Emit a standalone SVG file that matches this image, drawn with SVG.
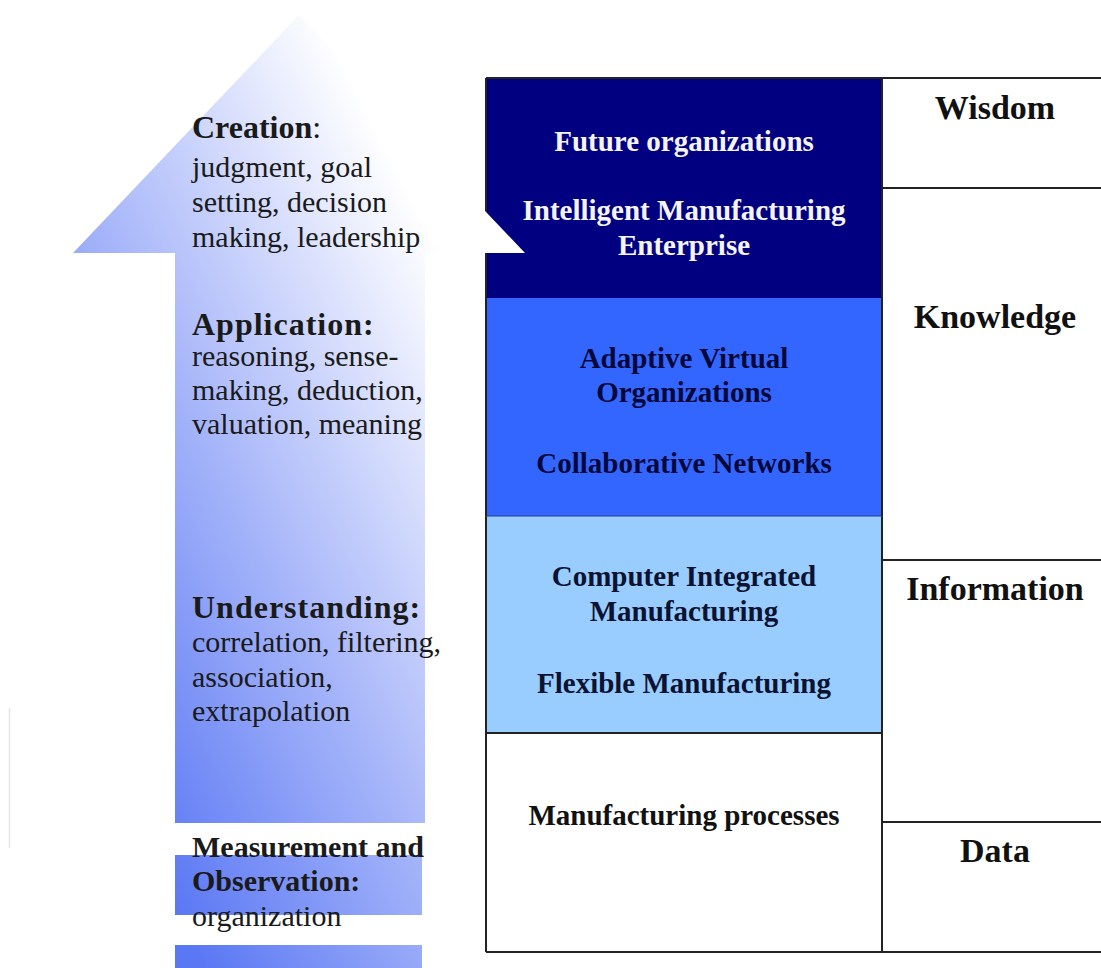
<svg xmlns="http://www.w3.org/2000/svg" width="1101" height="968" viewBox="0 0 1101 968">
  <defs>
    <linearGradient id="arrowGrad" gradientUnits="userSpaceOnUse" x1="132" y1="824" x2="608" y2="582">
      <stop offset="0" stop-color="#5b78f4"/>
      <stop offset="0.5" stop-color="#adbbfa"/>
      <stop offset="1" stop-color="#ffffff"/>
    </linearGradient>
  </defs>
  <style>
    text { font-family: "Liberation Serif", "Times New Roman", serif; }
    .stageHead { font-size: 32px; font-weight: bold; fill: #1a1a1a; }
    .stageBody { font-size: 30px; fill: #1a1a1a; }
    .cell { font-size: 29px; font-weight: bold; text-anchor: middle; }
    .level { font-size: 34px; font-weight: bold; text-anchor: middle; fill: #111; }
    .grid { stroke: #222; stroke-width: 2; fill: none; }
  </style>

  <rect x="0" y="0" width="1101" height="968" fill="#ffffff"/>

  <!-- faint line at the far left -->
  <line x1="9.5" y1="708" x2="9.5" y2="848" stroke="#e4e4e4" stroke-width="1.5"/>

  <!-- Left column cells -->
  <g id="cell-future">
    <rect x="486" y="78" width="396" height="220" fill="#000080"/>
    <text x="684" y="151" class="cell" fill="#f4f4fa">Future organizations</text>
    <text x="684" y="220" class="cell" fill="#f4f4fa">Intelligent Manufacturing</text>
    <text x="684" y="255" class="cell" fill="#f4f4fa">Enterprise</text>
  </g>
  <g id="cell-networks">
    <rect x="486" y="298" width="396" height="218" fill="#3366ff"/>
    <text x="684" y="368" class="cell" fill="#06083a">Adaptive Virtual</text>
    <text x="684" y="402" class="cell" fill="#06083a">Organizations</text>
    <text x="684" y="473" class="cell" fill="#06083a">Collaborative Networks</text>
  </g>
  <g id="cell-cim">
    <rect x="486" y="516" width="396" height="217" fill="#99ccff"/>
    <text x="684" y="586" class="cell" fill="#0b1330">Computer Integrated</text>
    <text x="684" y="621" class="cell" fill="#0b1330">Manufacturing</text>
    <text x="684" y="693" class="cell" fill="#0b1330">Flexible Manufacturing</text>
  </g>
  <g id="cell-processes">
    <rect x="486" y="733" width="396" height="219" fill="#ffffff"/>
    <text x="684" y="825" class="cell" fill="#111">Manufacturing processes</text>
  </g>

  <!-- Right column levels -->
  <g id="level-wisdom">
    <text x="995" y="119" class="level">Wisdom</text>
  </g>
  <g id="level-knowledge">
    <text x="995" y="328" class="level">Knowledge</text>
  </g>
  <g id="level-information">
    <text x="995" y="600" class="level">Information</text>
  </g>
  <g id="level-data">
    <text x="995" y="862" class="level">Data</text>
  </g>

  <!-- Table grid lines -->
  <g id="connectors">
    <line x1="486" y1="78" x2="1101" y2="78" class="grid"/>
    <line x1="486" y1="78" x2="486" y2="952" class="grid"/>
    <line x1="882" y1="78" x2="882" y2="952" class="grid"/>
    <line x1="486" y1="516" x2="882" y2="516" stroke="#2a3a80" stroke-width="1"/>
    <line x1="486" y1="733" x2="882" y2="733" class="grid"/>
    <line x1="486" y1="952" x2="1101" y2="952" class="grid"/>
    <line x1="882" y1="188" x2="1101" y2="188" class="grid"/>
    <line x1="882" y1="560" x2="1101" y2="560" class="grid"/>
    <line x1="882" y1="822" x2="1101" y2="822" class="grid"/>
  </g>

  <!-- Big arrow (its head overlaps the table corner) -->
  <g id="arrow">
    <path d="M299,15 L525,253 L425,253 L425,823 L175,823 L175,253 L73,253 Z" fill="url(#arrowGrad)"/>
    <rect x="175" y="855" width="247" height="60" fill="url(#arrowGrad)"/>
    <rect x="175" y="945" width="247" height="23" fill="url(#arrowGrad)"/>
  </g>

  <!-- Stage labels on the arrow -->
  <g id="stage-creation">
    <text x="192" y="138" class="stageHead">Creation<tspan font-weight="normal">:</tspan></text>
    <text x="192" y="177" class="stageBody">judgment, goal</text>
    <text x="192" y="212" class="stageBody">setting, decision</text>
    <text x="192" y="247" class="stageBody">making, leadership</text>
  </g>
  <g id="stage-application">
    <text x="192" y="335" class="stageHead" letter-spacing="1">Application:</text>
    <text x="192" y="366" class="stageBody">reasoning, sense-</text>
    <text x="192" y="400" class="stageBody">making, deduction,</text>
    <text x="192" y="434" class="stageBody">valuation, meaning</text>
  </g>
  <g id="stage-understanding">
    <text x="192" y="618" class="stageHead" letter-spacing="1">Understanding:</text>
    <text x="192" y="652" class="stageBody" font-size="29">correlation, filtering,</text>
    <text x="192" y="687" class="stageBody" font-size="29">association,</text>
    <text x="192" y="721" class="stageBody" font-size="29">extrapolation</text>
  </g>
  <g id="stage-measurement">
    <text x="192" y="857" class="stageBody" font-size="29" font-weight="bold">Measurement and</text>
    <text x="192" y="891" class="stageBody" font-size="29" font-weight="bold" fill="#14206e">Observation:</text>
    <text x="192" y="926" class="stageBody" font-size="29">organization</text>
  </g>
</svg>
